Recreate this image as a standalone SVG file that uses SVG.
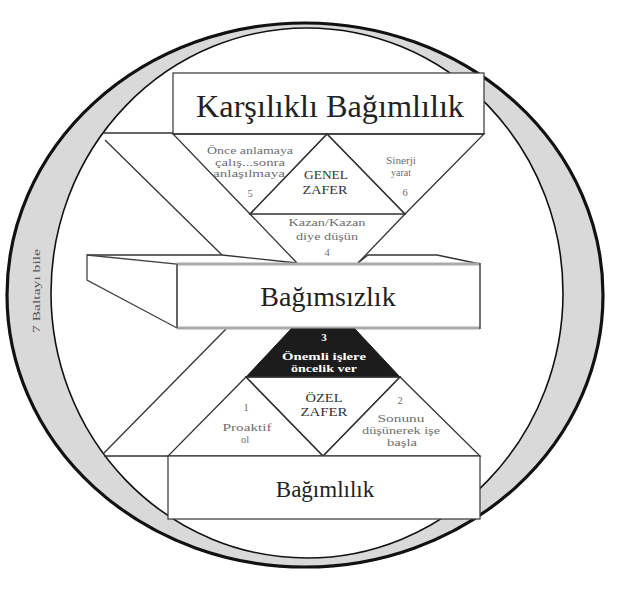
<svg xmlns="http://www.w3.org/2000/svg" width="627" height="602" viewBox="0 0 627 602">
<style>
  .ln{fill:none;stroke:#333;stroke-width:1.3}
  .box{fill:#fff;stroke:#444;stroke-width:1.3}
  .wf{fill:#fff;stroke:none}
  .big{font-family:"Liberation Serif",serif;fill:#222;text-anchor:middle}
  .sm{font-family:"Liberation Serif",serif;font-size:10.5px;fill:#6e6e6e;text-anchor:middle}
  .hd{font-family:"Liberation Serif",serif;font-size:12.5px;fill:#333;text-anchor:middle}
  .wt{font-family:"Liberation Serif",serif;font-size:11px;fill:#fff;text-anchor:middle;font-weight:bold}
</style>
<rect width="627" height="602" fill="#fff"/>

<g id="ring">
  <path d="M7,295 A298,272 0 1 0 603,295 A298,272 0 1 0 7,295 Z M51,293 A256,265 0 1 1 563,293 A256,265 0 1 1 51,293 Z" fill="#d9d9d9" fill-rule="evenodd"/>
  <ellipse cx="305" cy="295" rx="298" ry="272" fill="none" stroke="#111" stroke-width="3.2"/>
  <ellipse cx="307" cy="293" rx="256" ry="265" fill="none" stroke="#111" stroke-width="1.6"/>
  <text class="sm" transform="translate(40,291) rotate(-90)" style="fill:#555;font-size:11px" textLength="84" lengthAdjust="spacingAndGlyphs">7 Baltayı bile</text>
</g>

<g id="connectors">
  <line class="ln" x1="103" y1="133" x2="173" y2="133"/>
  <line class="ln" x1="105" y1="140" x2="222" y2="255"/>
  <line class="ln" x1="104" y1="456" x2="168" y2="456"/>
  <line class="ln" x1="104" y1="453" x2="226" y2="329"/>
</g>

<g id="box-karsilikli">
  <rect class="box" x="173" y="73" width="311" height="61"/>
  <text class="big" x="330" y="117" font-size="32" textLength="268" lengthAdjust="spacingAndGlyphs">Karşılıklı Bağımlılık</text>
</g>

<g id="tri-5">
  <polygon class="ln" points="173,134 327,134 250,214"/>
  <text class="sm" x="250" y="154" textLength="86" lengthAdjust="spacingAndGlyphs">Önce anlamaya</text>
  <text class="sm" x="250" y="166" textLength="70" lengthAdjust="spacingAndGlyphs">çalış...sonra</text>
  <text class="sm" x="249" y="177" textLength="72" lengthAdjust="spacingAndGlyphs">anlaşılmaya</text>
  <text class="sm" x="250" y="197">5</text>
</g>

<g id="tri-genel">
  <polygon class="ln" points="327,134 250,214 405,214"/>
  <text class="hd" x="326" y="179" textLength="44" lengthAdjust="spacingAndGlyphs">GENEL</text>
  <text class="hd" x="325" y="194" textLength="45" lengthAdjust="spacingAndGlyphs">ZAFER</text>
</g>

<g id="tri-6">
  <polygon class="ln" points="327,134 484,134 405,214"/>
  <text class="sm" x="401" y="164" textLength="30" lengthAdjust="spacingAndGlyphs">Sinerji</text>
  <text class="sm" x="401" y="176" textLength="20" lengthAdjust="spacingAndGlyphs">yarat</text>
  <text class="sm" x="405" y="196">6</text>
</g>

<g id="trap-4">
  <polyline class="ln" points="250,214 297,263"/>
  <polyline class="ln" points="405,214 358,263"/>
  <text class="sm" x="327" y="226" textLength="77" lengthAdjust="spacingAndGlyphs">Kazan/Kazan</text>
  <text class="sm" x="327" y="240" textLength="62" lengthAdjust="spacingAndGlyphs">diye düşün</text>
</g>

<g id="box-bagimsizlik">
  <polygon class="wf" points="87,255 222,255 297,263 358,263 368,255 437,255 480,264 480,328 177,328 87,280"/>
  <polyline class="ln" points="87,255 222,255 297,263"/>
  <polyline class="ln" points="358,263 368,255 437,255 480,264"/>
  <polygon class="ln" points="87,255 177,264 177,328 87,280" style="stroke:#444"/>
  <line x1="177" y1="264" x2="480" y2="264" stroke="#aaa" stroke-width="3"/>
  <line x1="177" y1="328" x2="480" y2="328" stroke="#aaa" stroke-width="3"/>
  <line x1="480" y1="263" x2="480" y2="329" stroke="#444" stroke-width="1.5"/>
  <line x1="177" y1="264" x2="177" y2="328" stroke="#555" stroke-width="1.3"/>
  <text class="big" x="328" y="306" font-size="28">Bağımsızlık</text>
</g>

<g id="label-4">
  <text class="sm" x="327" y="256">4</text>
</g>

<g id="trap-3">
  <polygon points="291,329 355,329 400,377 246,377" fill="#1c1c1c" stroke="#1c1c1c" stroke-width="1"/>
  <text class="wt" x="324" y="341">3</text>
  <text class="wt" x="324" y="360" textLength="84" lengthAdjust="spacingAndGlyphs">Önemli işlere</text>
  <text class="wt" x="324" y="372" textLength="66" lengthAdjust="spacingAndGlyphs">öncelik ver</text>
</g>

<g id="tri-1">
  <polygon class="ln" points="246,377 168,456 323,456"/>
  <text class="sm" x="246" y="411">1</text>
  <text class="sm" x="247" y="431" textLength="49" lengthAdjust="spacingAndGlyphs">Proaktif</text>
  <text class="sm" x="245" y="443">ol</text>
</g>

<g id="tri-ozel">
  <polygon class="ln" points="246,377 400,377 323,456"/>
  <text class="hd" x="324" y="402" textLength="37" lengthAdjust="spacingAndGlyphs">ÖZEL</text>
  <text class="hd" x="324" y="416" textLength="47" lengthAdjust="spacingAndGlyphs">ZAFER</text>
</g>

<g id="tri-2">
  <polygon class="ln" points="400,377 323,456 480,456"/>
  <text class="sm" x="400" y="404">2</text>
  <text class="sm" x="401" y="422" textLength="47" lengthAdjust="spacingAndGlyphs">Sonunu</text>
  <text class="sm" x="401" y="434" textLength="78" lengthAdjust="spacingAndGlyphs">düşünerek işe</text>
  <text class="sm" x="402" y="446" textLength="30" lengthAdjust="spacingAndGlyphs">başla</text>
</g>

<g id="box-bagimlilik">
  <rect class="box" x="168" y="456" width="312" height="63"/>
  <text class="big" x="325" y="497" font-size="23">Bağımlılık</text>
</g>
</svg>
